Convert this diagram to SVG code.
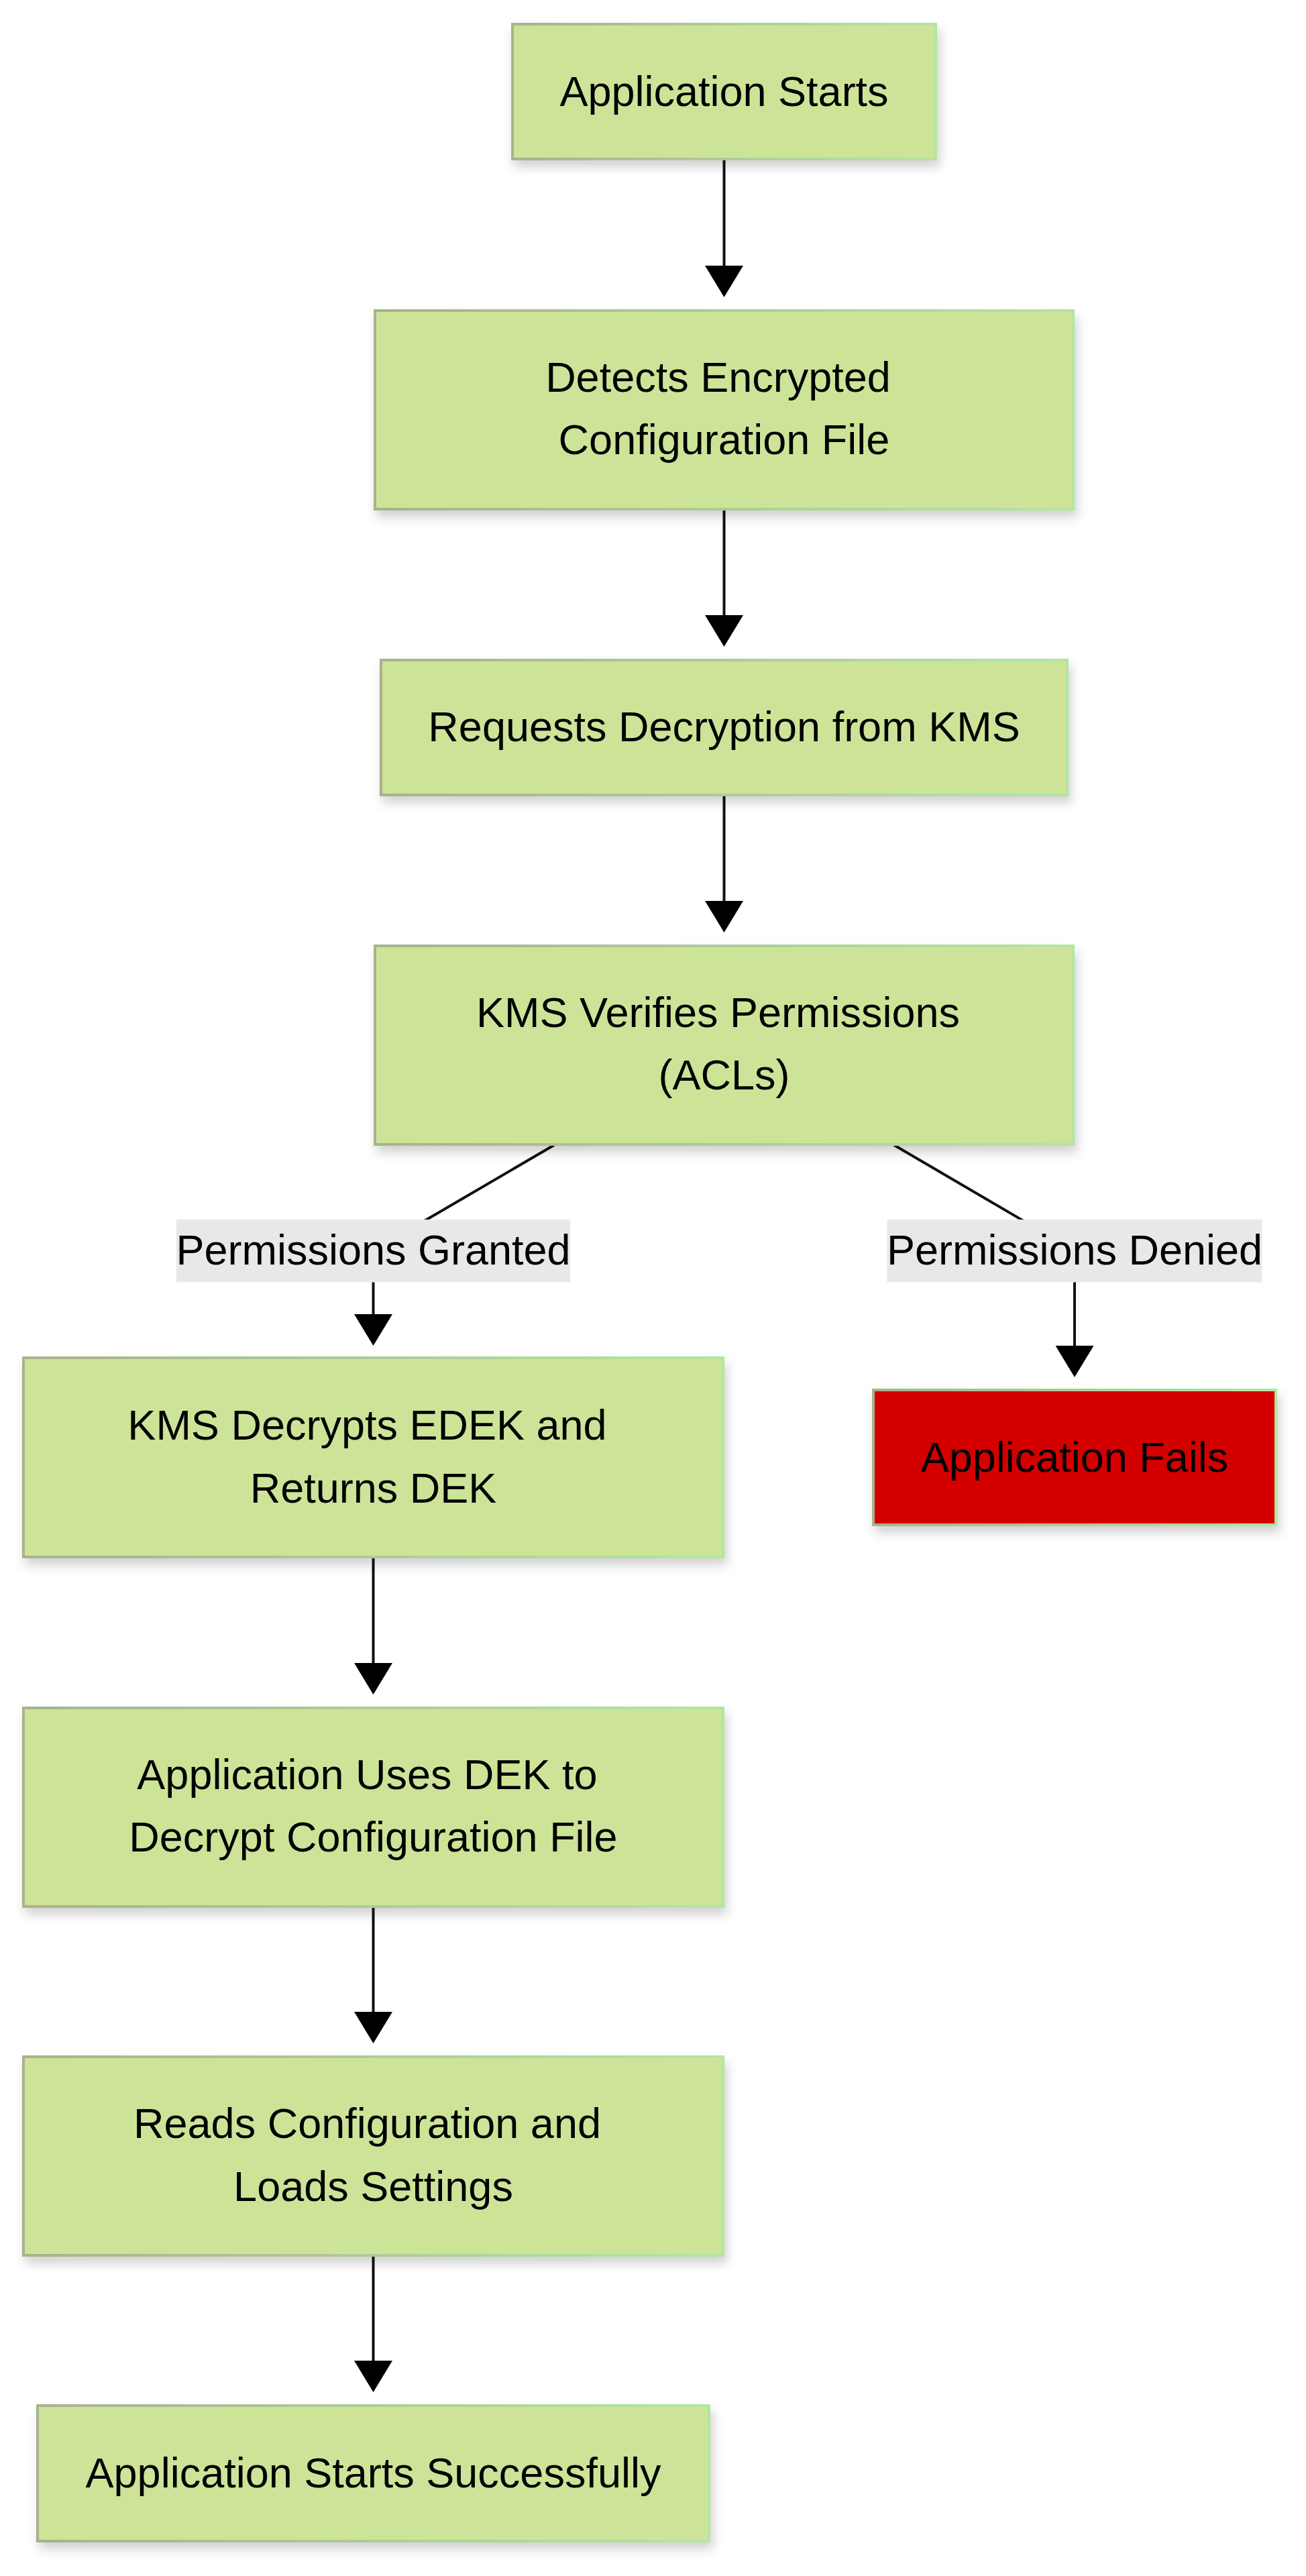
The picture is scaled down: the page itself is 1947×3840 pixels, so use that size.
<svg xmlns="http://www.w3.org/2000/svg" width="1947" height="3840" viewBox="0 0 1947 3840">
  <style>
    .node rect { stroke: url(#strokeGrad); stroke-width: 4; filter: url(#shadow); }
    .ok rect { fill: #cde498; }
    .fail rect { fill: #d40000; }
    text { font-family: "Liberation Sans", Arial, Helvetica, sans-serif; font-size: 63px; fill: #000; text-anchor: middle; }
    .edge { fill: none; stroke: #111; stroke-width: 4; marker-end: url(#arrow); }
    .lbl { fill: #e8e8e8; }
  </style>
  <defs>
    <linearGradient id="strokeGrad" x1="0" y1="0" x2="1" y2="0">
      <stop offset="0" stop-color="#a8b28d"/>
      <stop offset="1" stop-color="#b3e6a0"/>
    </linearGradient>
    <filter id="shadow" x="-10%" y="-20%" width="120%" height="150%">
      <feDropShadow dx="4" dy="10" stdDeviation="8" flood-color="#000" flood-opacity="0.18"/>
    </filter>
    <marker id="arrow" viewBox="0 0 47 57" refX="42" refY="28.5" markerWidth="47" markerHeight="57" markerUnits="userSpaceOnUse" orient="auto">
      <path d="M0,0 L47,28.5 L0,57 Z" fill="#000"/>
    </marker>
  </defs>
  <rect x="0" y="0" width="1947" height="3840" fill="#fff"/>

  <g id="connectors">
    <path class="edge" d="M1079.5,239 L1079.5,438"/>
    <path class="edge" d="M1079.5,761 L1079.5,959"/>
    <path class="edge" d="M1079.5,1187 L1079.5,1385"/>
    <path class="edge" d="M826,1707 L556.5,1864.5 L556.5,2001"/>
    <path class="edge" d="M1333,1707 L1602,1864.5 L1602,2048"/>
    <path class="edge" d="M556.5,2323 L556.5,2521"/>
    <path class="edge" d="M556.5,2844 L556.5,3041"/>
    <path class="edge" d="M556.5,3364 L556.5,3561"/>
    <g id="label-granted">
      <rect class="lbl" x="263" y="1818" width="587" height="93.5"/>
      <text x="556.5" y="1885">Permissions Granted</text>
    </g>
    <g id="label-denied">
      <rect class="lbl" x="1322.5" y="1818" width="559" height="93.5"/>
      <text x="1602" y="1885">Permissions Denied</text>
    </g>
  </g>

  <g id="n1" class="node ok">
    <rect x="764" y="36" width="631" height="201"/>
    <text x="1079.5" y="157.5">Application Starts</text>
  </g>
  <g id="n2" class="node ok">
    <rect x="559" y="463" width="1041" height="296"/>
    <text x="1070.5" y="584">Detects Encrypted</text>
    <text x="1079.5" y="677">Configuration File</text>
  </g>
  <g id="n3" class="node ok">
    <rect x="568" y="984" width="1023" height="201"/>
    <text x="1079.5" y="1105">Requests Decryption from KMS</text>
  </g>
  <g id="n4" class="node ok">
    <rect x="559" y="1410" width="1041" height="296"/>
    <text x="1070.5" y="1531">KMS Verifies Permissions</text>
    <text x="1079.5" y="1624">(ACLs)</text>
  </g>
  <g id="n5" class="node ok">
    <rect x="35" y="2024" width="1043" height="297"/>
    <text x="547.5" y="2145.5">KMS Decrypts EDEK and</text>
    <text x="556.5" y="2239.5">Returns DEK</text>
  </g>
  <g id="n6" class="node ok">
    <rect x="35" y="2546" width="1043" height="296"/>
    <text x="547.5" y="2667">Application Uses DEK to</text>
    <text x="556.5" y="2760">Decrypt Configuration File</text>
  </g>
  <g id="n7" class="node ok">
    <rect x="35" y="3066" width="1043" height="296"/>
    <text x="547.5" y="3187">Reads Configuration and</text>
    <text x="556.5" y="3281">Loads Settings</text>
  </g>
  <g id="n8" class="node ok">
    <rect x="56" y="3586" width="1001" height="202"/>
    <text x="556.5" y="3708">Application Starts Successfully</text>
  </g>
  <g id="fail" class="node fail">
    <rect x="1302" y="2072" width="600" height="201"/>
    <text x="1602" y="2193.5">Application Fails</text>
  </g>
</svg>
